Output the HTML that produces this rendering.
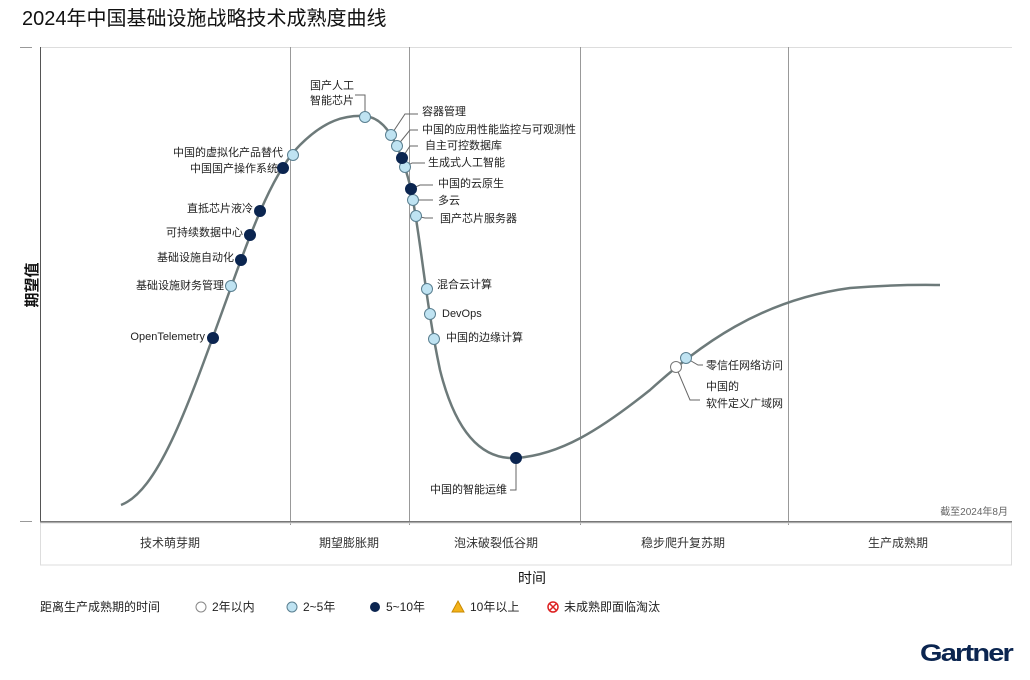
<!DOCTYPE html>
<html><head><meta charset="utf-8"><style>
body{margin:0;background:#fff;width:1030px;height:675px;overflow:hidden;font-family:"Liberation Sans","Noto Sans CJK SC",sans-serif}
svg text{font-family:"Liberation Sans","Noto Sans CJK SC",sans-serif}
</style></head><body>
<svg width="1030" height="675" viewBox="0 0 1030 675" xmlns="http://www.w3.org/2000/svg">
<text x="22" y="25" font-size="20" fill="#111">2024年中国基础设施战略技术成熟度曲线</text>
<line x1="40" y1="47.5" x2="1012" y2="47.5" stroke="#ddd"/>
<line x1="20" y1="47.5" x2="32" y2="47.5" stroke="#999"/>
<line x1="20" y1="521.5" x2="32" y2="521.5" stroke="#999"/>
<line x1="40.5" y1="47" x2="40.5" y2="565" stroke="#555"/>
<g stroke="#999" stroke-width="1">
<line x1="290.5" y1="47" x2="290.5" y2="525"/><line x1="409.5" y1="47" x2="409.5" y2="525"/>
<line x1="580.5" y1="47" x2="580.5" y2="525"/><line x1="788.5" y1="47" x2="788.5" y2="525"/>
</g>
<line x1="40" y1="522" x2="1012" y2="522" stroke="#777" stroke-width="2"/>
<rect x="40.5" y="523" width="971" height="42" fill="none" stroke="#ddd"/>
<g font-size="12" fill="#333" text-anchor="middle">
<text x="170" y="547">技术萌芽期</text><text x="349" y="547">期望膨胀期</text><text x="496" y="547">泡沫破裂低谷期</text><text x="683" y="547">稳步爬升复苏期</text><text x="898" y="547">生产成熟期</text>
</g>
<text x="1008" y="515" font-size="10" fill="#666" text-anchor="end">截至2024年8月</text>
<text x="532" y="583" font-size="14" fill="#111" text-anchor="middle">时间</text>
<text transform="translate(37,285) rotate(-90)" font-size="15" font-weight="bold" fill="#111" text-anchor="middle">期望值</text>
<path d="M121,505 C160,490 190,400 230,290 C255,220 275,170 300,145 C325,120 345,115 365,116 C385,118 398,140 410,185 C420,230 425,300 440,370 C455,430 480,460 516,458 C560,455 600,430 650,390 C700,345 760,300 850,288 C900,284 930,285 940,285" fill="none" stroke="#6d7a7a" stroke-width="2.5"/>
<g stroke="#666" fill="none" stroke-width="1">
<path d="M355,95 H365 V117"/><path d="M391,135 L405,114 H418"/><path d="M397,146 L410,130 H418"/>
<path d="M402,158 L410,146 H418"/><path d="M405,167 L412,163 H425"/><path d="M411,189 L420,185 H433"/>
<path d="M413,200 L420,200 H433"/><path d="M416,216 L425,218 H433"/><path d="M516,458 V490 H510"/>
<path d="M686,358 L698,365 H703"/><path d="M676,367 L690,400 H700"/>
</g>
<g stroke="#333" stroke-width="1">
<g fill="#bfe3f2" stroke="#5a7f90"><circle cx="293" cy="155" r="5.5"/><circle cx="231" cy="286" r="5.5"/><circle cx="365" cy="117" r="5.5"/><circle cx="391" cy="135" r="5.5"/><circle cx="397" cy="146" r="5.5"/><circle cx="405" cy="167" r="5.5"/><circle cx="413" cy="200" r="5.5"/><circle cx="416" cy="216" r="5.5"/><circle cx="427" cy="289" r="5.5"/><circle cx="430" cy="314" r="5.5"/><circle cx="434" cy="339" r="5.5"/><circle cx="686" cy="358" r="5.5"/></g>
<g fill="#0b2550" stroke="#0b2550"><circle cx="213" cy="338" r="5.5"/><circle cx="241" cy="260" r="5.5"/><circle cx="250" cy="235" r="5.5"/><circle cx="260" cy="211" r="5.5"/><circle cx="283" cy="168" r="5.5"/><circle cx="402" cy="158" r="5.5"/><circle cx="411" cy="189" r="5.5"/><circle cx="516" cy="458" r="5.5"/></g>
<circle cx="676" cy="367" r="5.5" fill="#fff" stroke="#777"/>
</g>
<g font-size="11" fill="#222">
<g text-anchor="end">
<text x="283" y="156">中国的虚拟化产品替代</text><text x="278" y="172">中国国产操作系统</text><text x="253" y="212">直抵芯片液冷</text><text x="243" y="236">可持续数据中心</text><text x="234" y="261">基础设施自动化</text><text x="224" y="289">基础设施财务管理</text><text x="205" y="340">OpenTelemetry</text><text x="507" y="493">中国的智能运维</text>
</g>
<text x="310" y="89">国产人工</text><text x="310" y="104">智能芯片</text>
<text x="422" y="115">容器管理</text><text x="422" y="133">中国的应用性能监控与可观测性</text><text x="425" y="149">自主可控数据库</text><text x="428" y="166">生成式人工智能</text><text x="438" y="187">中国的云原生</text><text x="438" y="204">多云</text><text x="440" y="222">国产芯片服务器</text><text x="437" y="288">混合云计算</text><text x="442" y="317">DevOps</text><text x="446" y="341">中国的边缘计算</text>
<text x="706" y="369">零信任网络访问</text><text x="706" y="390">中国的</text><text x="706" y="407">软件定义广域网</text>
</g>
<g font-size="12" fill="#222">
<text x="40" y="611">距离生产成熟期的时间</text>
<circle cx="201" cy="607" r="5" fill="#fff" stroke="#888"/><text x="212" y="611">2年以内</text>
<circle cx="292" cy="607" r="5" fill="#bfe3f2" stroke="#5a7f90"/><text x="303" y="611">2~5年</text>
<circle cx="375" cy="607" r="5" fill="#0b2550"/><text x="386" y="611">5~10年</text>
<path d="M458,601 L464,612 H452 Z" fill="#f3b21a" stroke="#c98a00"/><text x="470" y="611">10年以上</text>
<circle cx="553" cy="607" r="5" fill="#fff" stroke="#d22" stroke-width="1.5"/><path d="M550,604 L556,610 M556,604 L550,610" stroke="#d22" stroke-width="1.5"/><text x="564" y="611">未成熟即面临淘汰</text>
</g>
<text x="1012" y="661" font-size="24" font-weight="bold" fill="#0b2550" text-anchor="end" letter-spacing="-1.5" textLength="92" lengthAdjust="spacingAndGlyphs">Gartner</text>
</svg>
</body></html>
